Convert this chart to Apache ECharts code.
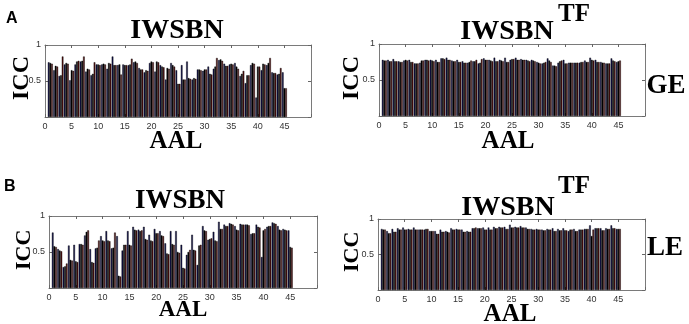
<!DOCTYPE html>
<html><head><meta charset="utf-8">
<script src="https://cdn.jsdelivr.net/npm/echarts@6/dist/echarts.min.js"></script>
<style>html,body{margin:0;padding:0;background:#fff}#c{width:689px;height:324px}</style>
</head><body><div id="c"></div>
<script>
// AAL region index 1..45 ; axis categories 0..50
const categories = Array.from({length: 51}, (_, i) => String(i));
const tickLabels = ['0','5','10','15','20','25','30','35','40','45'];
const seriesNames = ['S1', 'S2', 'S3'];
const seriesColors = ['#12124e', '#000000', '#561010'];

// Panel A left : GE, IWSBN
const geIwsbnBlue  = [.76,.65,.57,.73,.51,.73,.77,.63,.58,.73,.73,.67,.84,.72,.73,.72,.76,.68,.62,.75,.63,.72,.52,.75,.65,.72,.77,.52,.66,.64,.70,.67,.79,.74,.73,.75,.57,.47,.72,.27,.65,.72,.62,.59,.62];
const geIwsbnBlack = [.75,.71,.58,.75,.65,.77,.78,.67,.60,.73,.74,.75,.72,.73,.72,.73,.77,.66,.65,.77,.77,.70,.68,.72,.46,.52,.54,.54,.66,.66,.60,.70,.80,.71,.74,.70,.60,.58,.75,.70,.74,.75,.61,.60,.40];
const geIwsbnRed   = [.74,.70,.84,.74,.64,.78,.84,.66,.76,.72,.73,.74,.72,.59,.72,.81,.75,.66,.64,.76,.76,.69,.67,.70,.46,.52,.53,.53,.65,.66,.59,.82,.78,.71,.73,.67,.64,.58,.74,.70,.73,.82,.61,.68,.40];

// Panel A right : GE, IWSBN^TF
const geTfBlue  = [.78,.78,.79,.76,.77,.78,.73,.74,.78,.78,.78,.80,.81,.77,.78,.76,.74,.76,.73,.80,.78,.81,.78,.81,.78,.81,.79,.78,.78,.75,.73,.80,.70,.74,.78,.74,.74,.74,.77,.81,.78,.75,.73,.80,.75];
const geTfBlack = [.77,.76,.76,.75,.78,.75,.73,.77,.78,.77,.75,.80,.78,.76,.75,.74,.75,.76,.74,.78,.77,.76,.77,.75,.79,.78,.78,.77,.77,.74,.74,.77,.70,.76,.73,.74,.74,.75,.75,.78,.75,.74,.73,.77,.76];
const geTfRed   = [.77,.76,.76,.75,.77,.75,.73,.77,.77,.76,.75,.79,.78,.76,.75,.74,.77,.78,.79,.78,.76,.76,.76,.75,.79,.78,.78,.76,.76,.73,.75,.75,.69,.77,.73,.74,.74,.75,.75,.77,.75,.74,.73,.76,.77];

// Panel B left : LE, IWSBN
const leIwsbnBlue  = [.77,.54,.29,.59,.60,.61,.73,.54,.55,.72,.79,.55,.72,.52,.79,.85,.81,.85,.74,.82,.79,.62,.79,.79,.60,.46,.74,.32,.86,.67,.78,.92,.88,.90,.86,.89,.88,.75,.88,.43,.85,.91,.86,.82,.80];
const leIwsbnBlack = [.58,.52,.30,.39,.37,.61,.78,.36,.56,.66,.66,.56,.17,.60,.60,.81,.79,.68,.66,.76,.73,.48,.61,.50,.28,.50,.53,.59,.80,.68,.66,.82,.86,.89,.81,.88,.88,.76,.85,.80,.86,.90,.81,.81,.57];
const leIwsbnRed   = [.57,.51,.34,.38,.36,.60,.80,.35,.66,.65,.65,.77,.16,.60,.59,.80,.80,.67,.65,.76,.72,.47,.60,.49,.27,.53,.52,.60,.79,.69,.65,.82,.86,.88,.80,.88,.87,.76,.84,.82,.86,.89,.80,.80,.56];

// Panel B right : LE, IWSBN^TF
const leTfBlue  = [.86,.83,.86,.87,.88,.86,.88,.85,.85,.83,.83,.85,.83,.87,.86,.85,.83,.87,.87,.88,.88,.89,.89,.89,.92,.89,.90,.88,.86,.86,.85,.86,.87,.86,.87,.83,.86,.85,.86,.91,.87,.87,.87,.91,.86];
const leTfBlack = [.85,.80,.82,.85,.85,.85,.85,.85,.86,.83,.79,.82,.82,.85,.85,.82,.82,.87,.87,.85,.85,.87,.88,.86,.88,.88,.88,.86,.85,.85,.84,.85,.83,.84,.84,.85,.83,.85,.86,.76,.87,.84,.86,.87,.86];
const leTfRed   = [.85,.80,.82,.85,.85,.85,.85,.85,.86,.83,.79,.82,.81,.85,.85,.82,.82,.88,.87,.85,.85,.87,.88,.86,.88,.88,.88,.86,.85,.85,.84,.85,.83,.84,.84,.85,.83,.85,.86,.85,.87,.84,.86,.87,.86];

const panels = [
  {grid:{left:45, top:45, width:266, height:72}, data:[geIwsbnBlue, geIwsbnBlack, geIwsbnRed]},
  {grid:{left:379, top:44, width:266, height:72}, data:[geTfBlue, geTfBlack, geTfRed]},
  {grid:{left:49, top:216, width:268, height:72}, data:[leIwsbnBlue, leIwsbnBlack, leIwsbnRed]},
  {grid:{left:378, top:219, width:267, height:71}, data:[leTfBlue, leTfBlack, leTfRed]}
];

const pad = vals => [null, ...vals, null, null, null, null, null];
const labelFont = {fontFamily:'Liberation Sans, Arial, sans-serif', fontSize:9, color:'#333'};
const frame = {show:true, onZero:false, lineStyle:{color:'#7a7a7a', width:1}};

const grid = [], xAxis = [], yAxis = [], series = [];
panels.forEach((p, i) => {
  grid.push(Object.assign({show:false}, p.grid));
  xAxis.push({type:'category', gridIndex:i, data:categories, boundaryGap:false, position:'bottom',
    axisLine:frame, axisTick:{show:true, inside:true, length:3, interval:4, lineStyle:{color:'#666'}},
    axisLabel:Object.assign({interval:4, margin:5, formatter:v => tickLabels.includes(v) ? v : ''}, labelFont)});
  xAxis.push({type:'category', gridIndex:i, data:categories, boundaryGap:false, position:'top',
    axisLine:frame, axisTick:{show:true, inside:true, length:3, interval:4, lineStyle:{color:'#666'}},
    axisLabel:{show:false}});
  yAxis.push({type:'value', gridIndex:i, min:0, max:1, interval:0.5, position:'left',
    axisLine:frame, splitLine:{show:false},
    axisTick:{show:true, inside:true, length:3, lineStyle:{color:'#666'}},
    axisLabel:Object.assign({margin:4, formatter:v => v === 0.5 ? '0.5' : (v === 1 ? '1' : '')}, labelFont)});
  yAxis.push({type:'value', gridIndex:i, min:0, max:1, interval:0.5, position:'right',
    axisLine:frame, splitLine:{show:false},
    axisTick:{show:true, inside:true, length:3, lineStyle:{color:'#666'}}, axisLabel:{show:false}});
  p.data.forEach((vals, k) => {
    series.push({type:'bar', name:seriesNames[k], xAxisIndex:2*i, yAxisIndex:2*i,
      data:pad(vals), barGap:'0%', barCategoryGap:'8%',
      itemStyle:{color:seriesColors[k], borderColor:'#000', borderWidth:0.4},
      animation:false, silent:true});
  });
});

const serif = 'Liberation Serif, "Times New Roman", serif';
const T = (text, x, y, size) => ({type:'text', x, y,
  style:{text, font:'bold ' + size + 'px ' + serif, fill:'#000', align:'center', verticalAlign:'top'}});
const R = (x, y, size) => ({type:'text', x, y, rotation:Math.PI/2,
  style:{text:'ICC', font:'bold ' + size + 'px ' + serif, fill:'#000', align:'left', verticalAlign:'top'}});
const graphic = [
  {type:'text', x:6, y:11, style:{text:'A', font:'bold 16px Liberation Sans, Arial, sans-serif', fill:'#000'}},
  {type:'text', x:4, y:179, style:{text:'B', font:'bold 16px Liberation Sans, Arial, sans-serif', fill:'#000'}},
  T('IWSBN', 177, 17, 28),
  T('IWSBN', 507, 18, 28),
  T('TF', 574, 2, 25),
  T('GE', 666, 73, 27),
  T('IWSBN', 180, 188, 27),
  T('IWSBN', 508, 194, 28),
  T('TF', 574, 174, 25),
  T('LE', 665, 235, 27),
  T('AAL', 176, 129, 25),
  T('AAL', 508, 129, 25),
  T('AAL', 183, 299, 23),
  T('AAL', 510, 302, 25),
  R(10, 100, 24),
  R(340, 100, 24),
  R(13, 270, 22),
  R(341, 272, 22)
];

const chart = echarts.init(document.getElementById('c'), null, {renderer:'canvas'});
chart.setOption({animation:false, backgroundColor:'#fff', grid, xAxis, yAxis, series, graphic});
</script></body></html>
